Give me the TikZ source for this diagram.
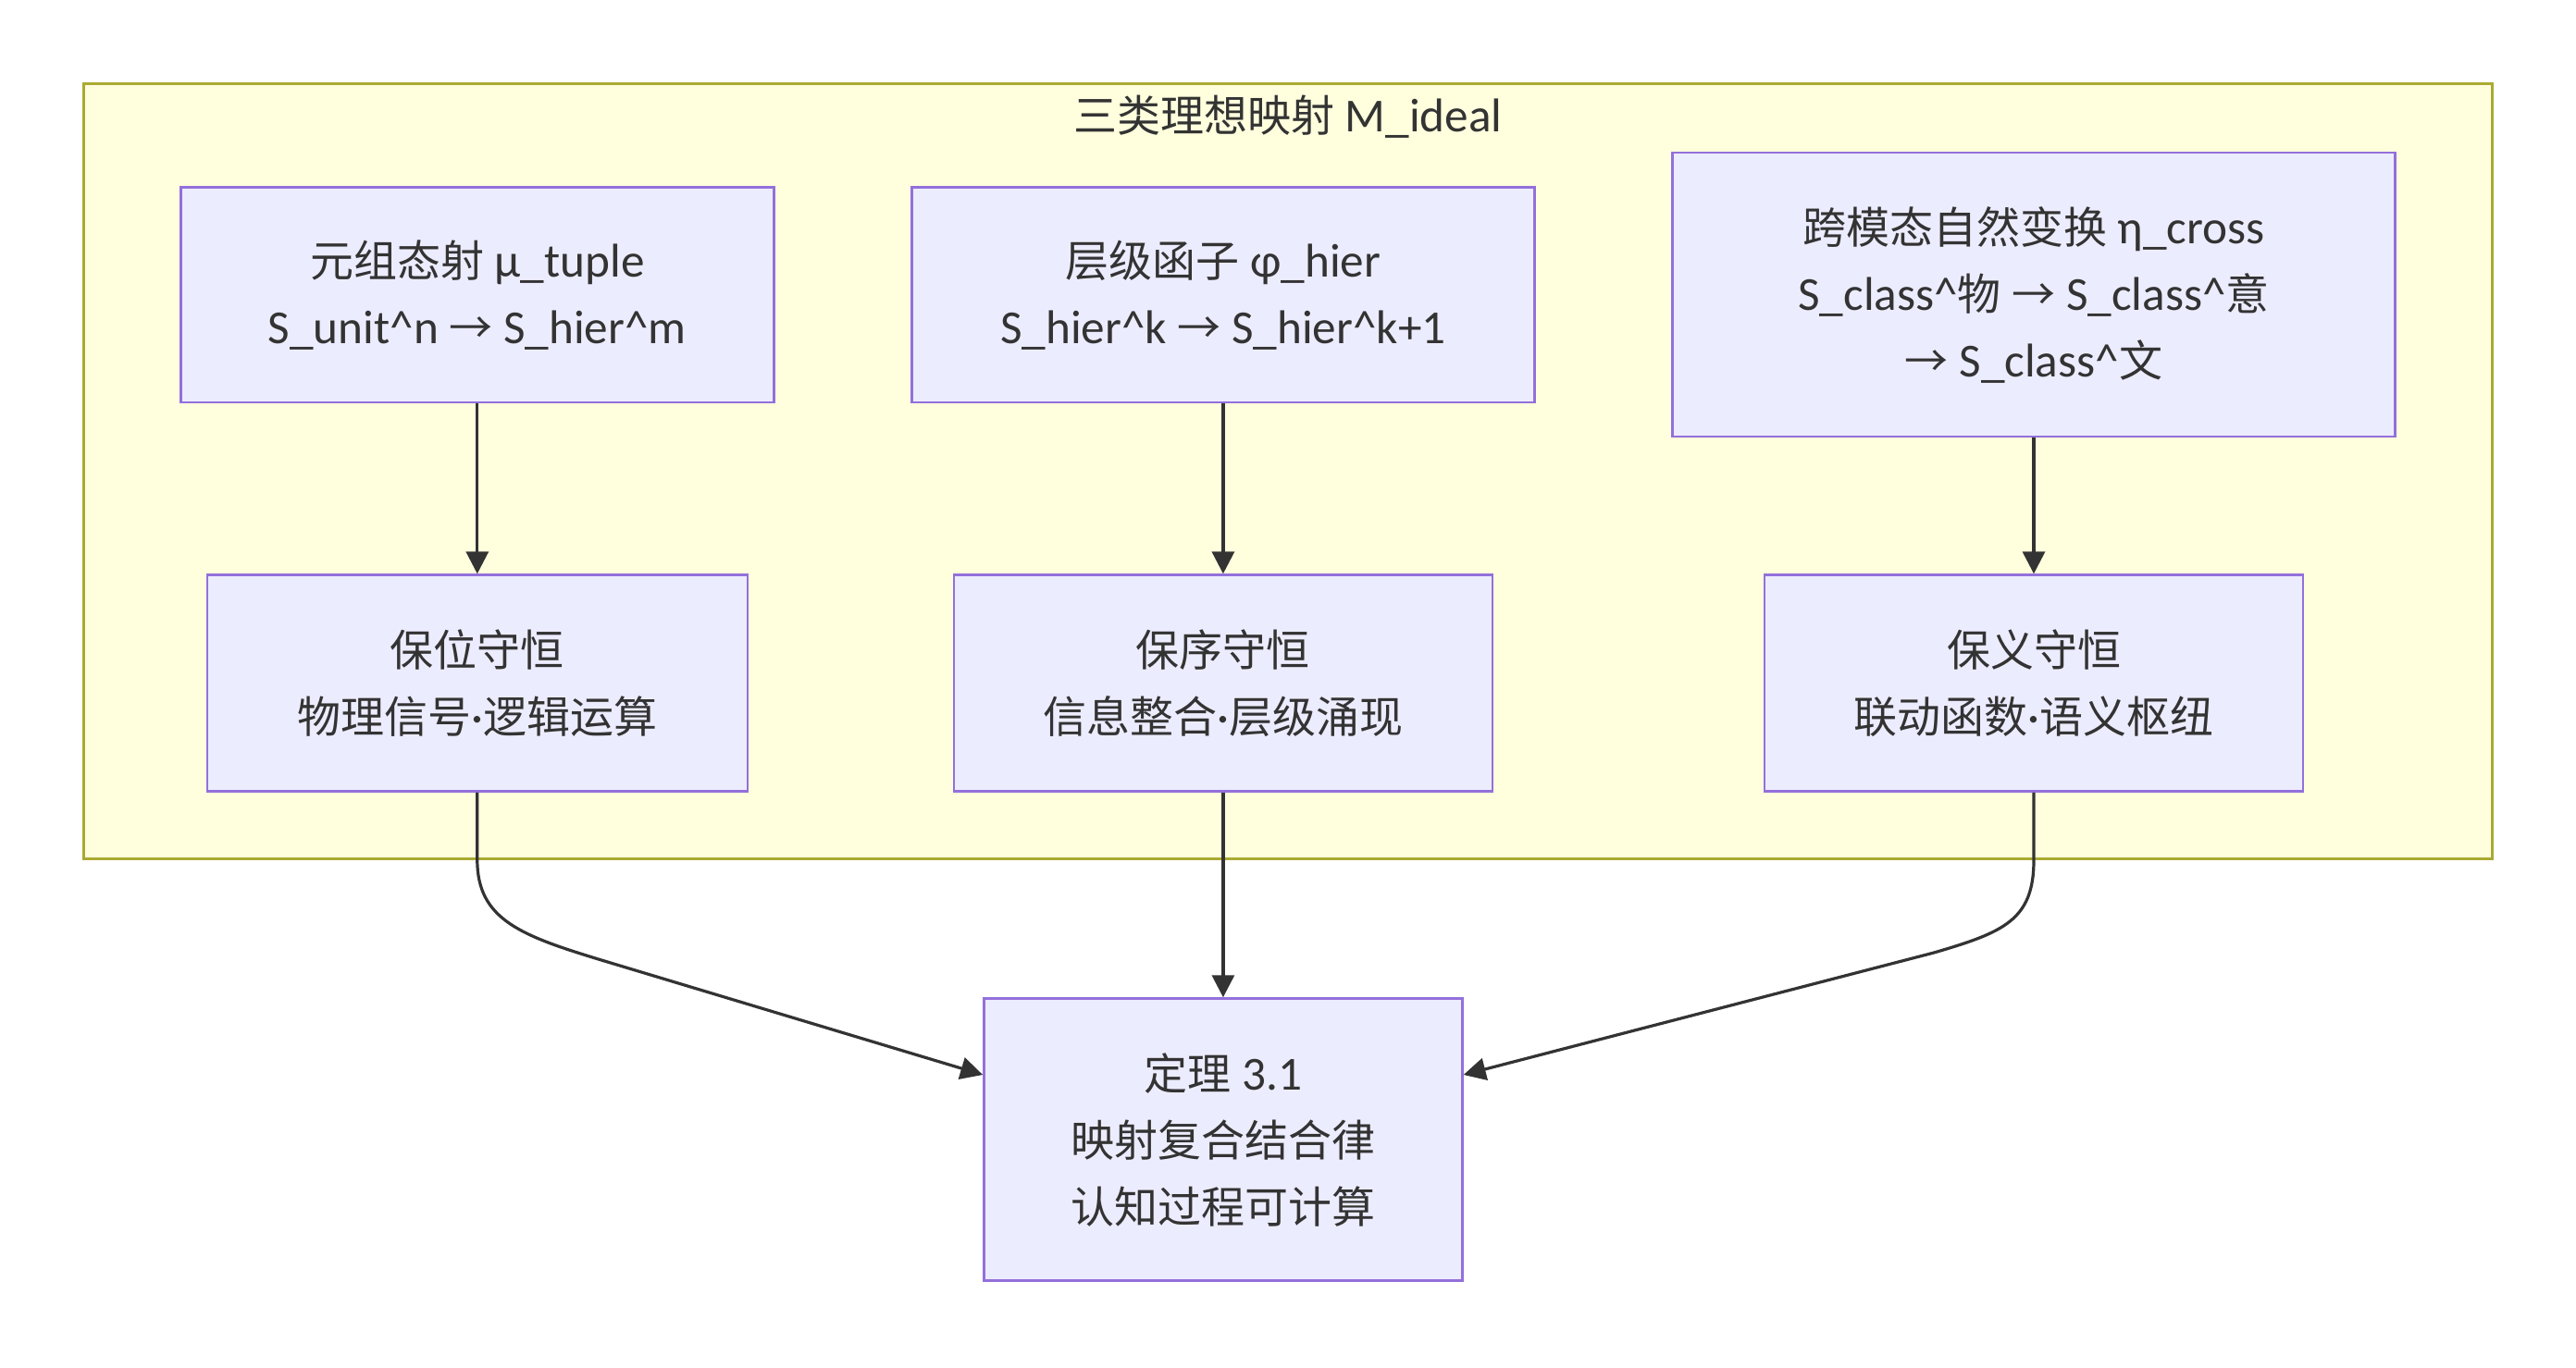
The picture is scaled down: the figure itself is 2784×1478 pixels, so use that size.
\documentclass[tikz,border=0pt]{standalone}
\usepackage{fontspec}
\setmainfont{Carlito}[Scale=1.09]
\newfontfamily\cjk{Noto Sans CJK SC}
\usetikzlibrary{arrows.meta,calc}
\definecolor{txt}{HTML}{333333}
\definecolor{nodef}{HTML}{ECECFF}
\definecolor{nodeb}{HTML}{9370DB}
\definecolor{clf}{HTML}{FFFFDE}
\definecolor{clb}{HTML}{AAAA33}
\begin{document}
\begin{tikzpicture}[x=1pt,y=-1pt,
  box/.style={draw=nodeb, fill=nodef, line width=2.5pt, text=txt, align=center,
    font=\fontsize{47}{72}\selectfont, inner sep=0pt},
  cluster/.style={draw=clb, fill=clf, line width=2.5pt, inner sep=0pt},
  arr/.style={draw=txt, line width=3.2pt, -{Triangle[length=24pt,width=24pt]}}]
\path[use as bounding box] (0,0) rectangle (2784,1478);
\fill[white] (0,0) rectangle (2784,1478);
\node[cluster, minimum width=2603pt, minimum height=838pt] (cl) at (1392,509.5) {};
\node[text=txt, font=\fontsize{47}{72}\selectfont] (clt) at (1392,126) {{\cjk 三类理想映射} M\_ideal};

\node[box, minimum width=641pt, minimum height=232.6pt] (A) at (515.8,318.7)
  {{\cjk 元组态射} μ\_tuple\\S\_unit\textasciicircum n {\cjk →} S\_hier\textasciicircum m};
\node[box, minimum width=673pt, minimum height=232.6pt] (B) at (1321.9,318.7)
  {{\cjk 层级函子} φ\_hier\\S\_hier\textasciicircum k {\cjk →} S\_hier\textasciicircum k+1};
\node[box, minimum width=781pt, minimum height=307pt] (C) at (2198,318.7)
  {{\cjk 跨模态自然变换} η\_cross\\S\_class\textasciicircum{\cjk 物} {\cjk →} S\_class\textasciicircum{\cjk 意}\\{\cjk →} S\_class\textasciicircum{\cjk 文}};

\node[box, minimum width=584pt, minimum height=234pt] (D) at (515.8,738.6)
  {{\cjk 保位守恒}\\{\cjk 物理信号}·{\cjk 逻辑运算}};
\node[box, minimum width=582pt, minimum height=234pt] (E) at (1321.9,738.6)
  {{\cjk 保序守恒}\\{\cjk 信息整合}·{\cjk 层级涌现}};
\node[box, minimum width=582pt, minimum height=234pt] (F) at (2198,738.6)
  {{\cjk 保义守恒}\\{\cjk 联动函数}·{\cjk 语义枢纽}};

\node[box, minimum width=517pt, minimum height=305pt] (G) at (1321.9,1232)
  {{\cjk 定理} 3.1\\{\cjk 映射复合结合律}\\{\cjk 认知过程可计算}};

\draw[arr] (A) -- (D);
\draw[arr] (B) -- (E);
\draw[arr] (C) -- (F);
\draw[arr] (E) -- (G);
\draw[arr] (D.south) -- (515.8,930) .. controls (515.8,995) and (565,1012) .. (650,1038) -- ([yshift=70pt]G.west);
\draw[arr] (F.south) -- (2198,930) .. controls (2198,995) and (2165,1008) .. (2090,1030) -- ([yshift=70pt]G.east);
\end{tikzpicture}
\end{document}
